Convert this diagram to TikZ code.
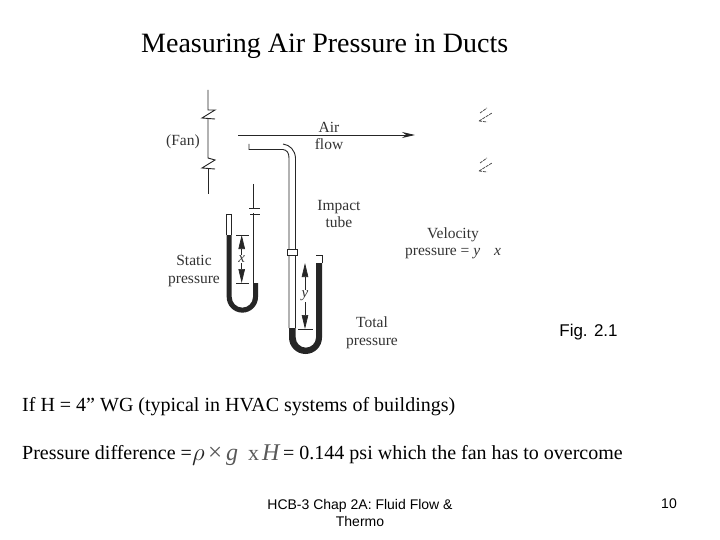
\documentclass[tikz,border=0pt]{standalone}
\usepackage{fontspec}
\setmainfont{Liberation Serif}
\setsansfont{Liberation Sans}
\usetikzlibrary{arrows.meta}
\definecolor{inkgray}{gray}{.15}
\tikzset{
  wall/.style={line width=.9pt,color=inkgray},
  fluid/.style={fill=black!85,draw=none},
  dimline/.style={line width=.7pt,color=inkgray,{Stealth[length=14pt,width=6.5pt,inset=0pt]}-{Stealth[length=14pt,width=6.5pt,inset=0pt]}},
  lbl/.style={font=\fontsize{15.5}{17.5}\selectfont,text=black!80,inner sep=0pt,align=center},
  dimlbl/.style={fill=white,inner sep=1pt,font=\fontsize{15}{17}\selectfont\itshape,text=black!80},
  body/.style={font=\fontsize{20}{22}\selectfont,inner sep=0pt,anchor=base west},
  foot/.style={font=\sffamily\fontsize{14}{17}\selectfont,inner sep=0pt,align=center},
}
\begin{document}
\begin{tikzpicture}[x=1pt,y=-1pt]
\useasboundingbox[fill=white] (0,0) rectangle (720,540);
% title and text
\node[inner sep=0pt,anchor=base west,font=\fontsize{28}{30}\selectfont] (title) at (141,53) {Measuring Air Pressure in Ducts};
\node[body] (ifline) at (22,411) {If H = 4” WG (typical in HVAC systems of buildings)};
\node[body] (pdiff) at (22,459) {Pressure difference =};
\node[body,font=\fontsize{24}{26}\selectfont,text=inkgray] (rho) at (192,460) {$\rho$};
\node[body,font=\fontsize{25}{27}\selectfont,text=black!65] (times) at (208,460) {×};
\node[body,font=\fontsize{24}{26}\selectfont\itshape,text=black!65] (gee) at (226,460) {g};
\node[body,font=\fontsize{22}{24}\selectfont,text=black!65] (ex) at (248,460) {x};
\node[body,font=\fontsize{24}{26}\selectfont\itshape,text=black!65] (aitch) at (262,460) {H};
\node[body] (result) at (283,459) {= 0.144 psi which the fan has to overcome};
\node[foot] (chap) at (360,512.5) {HCB-3 Chap 2A: Fluid Flow \&\\Thermo};
\node[foot] (pageno) at (669,504) {10};
\node[inner sep=0pt,font=\sffamily\fontsize{17}{19}\selectfont] (fig) at (588.5,332) {Fig. 2.1};
% labels
\node[lbl] (fan) at (183,142) {(Fan)};
\node[lbl] (air) at (329,136) {Air\\flow};
\node[lbl] (impact) at (339,214) {Impact\\tube};
\node[lbl] (static) at (194,271) {Static\\pressure};
\node[lbl] (velocity) at (453,235) {Velocity};
\node[lbl,anchor=west] (velpress) at (405,254) {pressure = \textit{y}\hspace{14pt}\textit{x}};
\node[lbl] (total) at (372,333) {Total\\pressure};
% fan line with breaks
\draw[wall] (208,90) -- (208,110) -- (215,110) -- (202,118) -- (215,119);
\draw[wall] (208,119) -- (208,158) -- (215,160) -- (202,168) -- (215,169);
\draw[wall] (208,169) -- (208,194);
% air flow
\coordinate (airstart) at (238,135);
\coordinate (airend) at (415,135);
\draw[wall,-{Stealth[length=13pt,width=6pt]}] (airstart) -- (airend);
% broken marks at the right
\foreach \dy in {0,50}{
  \draw[line width=.8pt,color=black!70,dash pattern=on 3pt off 1pt,yshift=-\dy pt]
    (480,113) -- (487,108) (479,121) -- (492,113) (479,121) -- (487,122);
}
% impact tube
\draw[wall] (249,144) -- (249,149.5) -- (283,149.5) .. controls (287,150) and (289,153) .. (289,158) -- (289,328);
\draw[wall] (283,144) .. controls (290,145) and (295,150) .. (295.5,158) -- (295.5,328);
\draw[wall,fill=white] (287.5,249) rectangle (297,255);
% static tube
\draw[wall] (226.7,214) -- (231.7,214);
\draw[wall] (226.7,214) -- (226.7,235) (231.7,214) -- (231.7,235);
\draw[wall] (253,184) -- (253,283);
\draw[wall] (249,208) -- (260,208) (250,214) -- (260,214);
\fill[white] (252,208.6) rectangle (254,213.4);
\path[fluid] (226.7,235) -- (226.7,297) arc (180:0:15.65) -- (258,283) -- (253,283) -- (253,297) arc (0:180:10.65) -- (231.7,235) -- cycle;
% total tube
\draw[wall] (316,255) -- (322,255) -- (322,263);
\path[fluid] (289,328) -- (289,337.5) arc (180:0:16.5) -- (322,263) -- (316,263) -- (316,337.5) arc (0:180:10.15) -- (295.7,328) -- cycle;
% x dimension
\coordinate (xtop) at (241.7,235);
\coordinate (xbot) at (241.7,283);
\draw[wall] (236,235) -- (249,235) (236,283) -- (249,283);
\draw[dimline] (xtop) -- node[midway,dimlbl] (xlbl) {x} (xbot);
% y dimension
\coordinate (ytop) at (305,263);
\coordinate (ybot) at (305,329);
\draw[wall] (298,329) -- (313,329);
\draw[dimline] (ytop) -- node[midway,dimlbl] (ylbl) {y} (ybot);
\end{tikzpicture}
\end{document}
